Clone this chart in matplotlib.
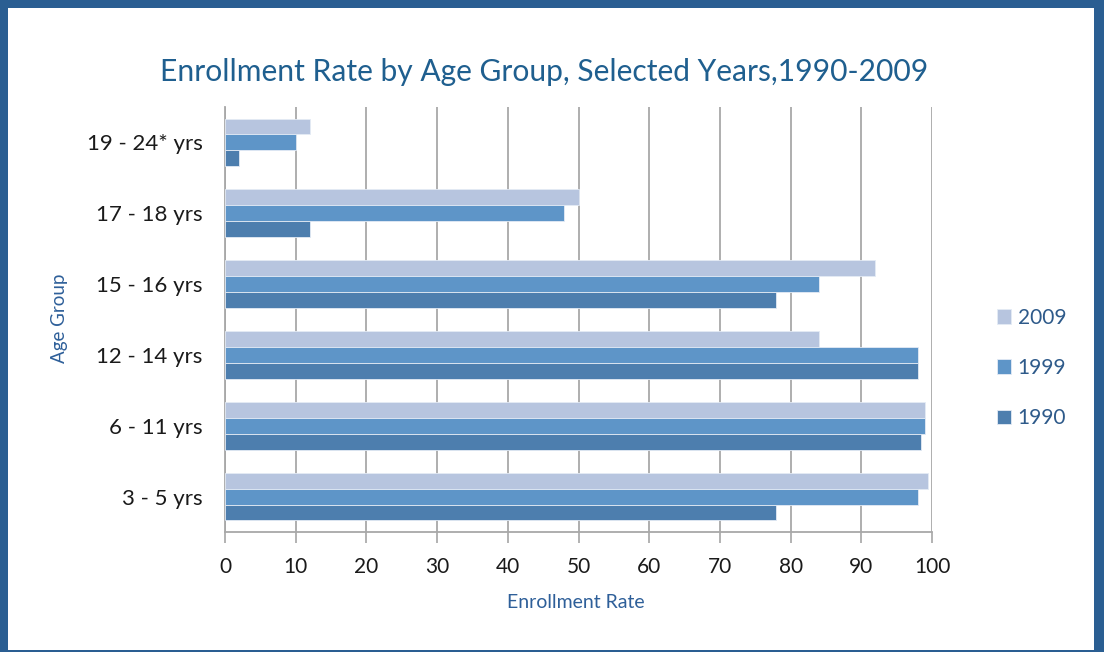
import matplotlib
matplotlib.use("Agg")
import matplotlib.pyplot as plt
from matplotlib.patches import Rectangle
import numpy as np

categories = ["3 - 5 yrs", "6 - 11 yrs", "12 - 14 yrs", "15 - 16 yrs", "17 - 18 yrs", "19 - 24* yrs"]
series_names = ["2009", "1999", "1990"]
v2009 = [99.4, 99, 84, 92, 50, 12]
v1999 = [98, 99, 98, 84, 48, 10]
v1990 = [78, 98.5, 98, 78, 12, 2]
x_ticks = [0, 10, 20, 30, 40, 50, 60, 70, 80, 90, 100]

colors = {"2009": "#b7c5df", "1999": "#5e95c8", "1990": "#4d7eae"}
border = "#2a5e92"
title_blue = "#1f5f8f"
label_blue = "#2e5f99"
narrow = ["Lato", "DejaVu Sans"]
body = ["Lato", "DejaVu Sans"]

W, H = 1104, 652
fig = plt.figure(figsize=(W / 100, H / 100), dpi=100)
fig.patch.set_facecolor(border)
fig.patches.append(Rectangle((8 / W, 1 - 650 / H), (1094 - 8) / W, (650 - 8) / H,
                             transform=fig.transFigure, facecolor="white",
                             edgecolor="none", zorder=-5))

ax = fig.add_axes([225 / W, 1 - 532 / H, (932 - 225) / W, (532 - 107) / H])
ax.set_facecolor("none")
ax.set_zorder(2)

y = np.arange(len(categories))
h = 0.225
data = {"2009": v2009, "1999": v1999, "1990": v1990}
offsets = {"2009": h, "1999": 0.0, "1990": -h}
handles = []
for name in series_names:
    b = ax.barh(y + offsets[name], data[name], height=h, color=colors[name],
                edgecolor="#e4ebf5", linewidth=0.6, zorder=3, label=name)
    handles.append(b)

ax.set_xlim(0, 100)
ax.set_ylim(-0.5, len(categories) - 0.5)
ax.set_xticks(x_ticks)
ax.set_xticklabels([str(t) for t in x_ticks], family=body, fontsize=15, color="#1a1a1a")
ax.set_yticks(y)
ax.set_yticklabels(categories, family=body, fontsize=16, color="#1a1a1a")
ax.tick_params(axis="y", length=0, pad=16)
ax.tick_params(axis="x", length=8, width=1.2, color="#a6a6a6", pad=10)
ax.grid(axis="x", color="#a8a8a8", linewidth=1.3, zorder=1)
for s in ["top", "right"]:
    ax.spines[s].set_visible(False)
ax.spines["left"].set_color("#a8a8a8")
ax.spines["left"].set_linewidth(1.3)
ax.spines["bottom"].set_color("#a8a8a8")
ax.spines["bottom"].set_linewidth(1.3)

fig.text(544 / W, 1 - 72 / H, "Enrollment Rate by Age Group, Selected Years,1990-2009",
         ha="center", va="center", family=narrow, fontsize=21.6, color=title_blue)
fig.text(576 / W, 1 - 602 / H, "Enrollment Rate", ha="center", va="center",
         family=narrow, fontsize=14, color=label_blue)
fig.text(60 / W, 1 - 318 / H, "Age Group", ha="center", va="center", rotation=90,
         family=narrow, fontsize=13.5, color=label_blue)

leg = fig.legend(handles=handles, labels=series_names, loc="center left",
                 bbox_to_anchor=(978 / W, 1 - 368 / H), frameon=False,
                 prop={"family": narrow, "size": 15}, labelcolor="#2e5a8a",
                 handlelength=0.7, handleheight=0.7, handletextpad=0.3,
                 labelspacing=1.45)

fig.savefig("out.png", dpi=100, facecolor=fig.get_facecolor())
